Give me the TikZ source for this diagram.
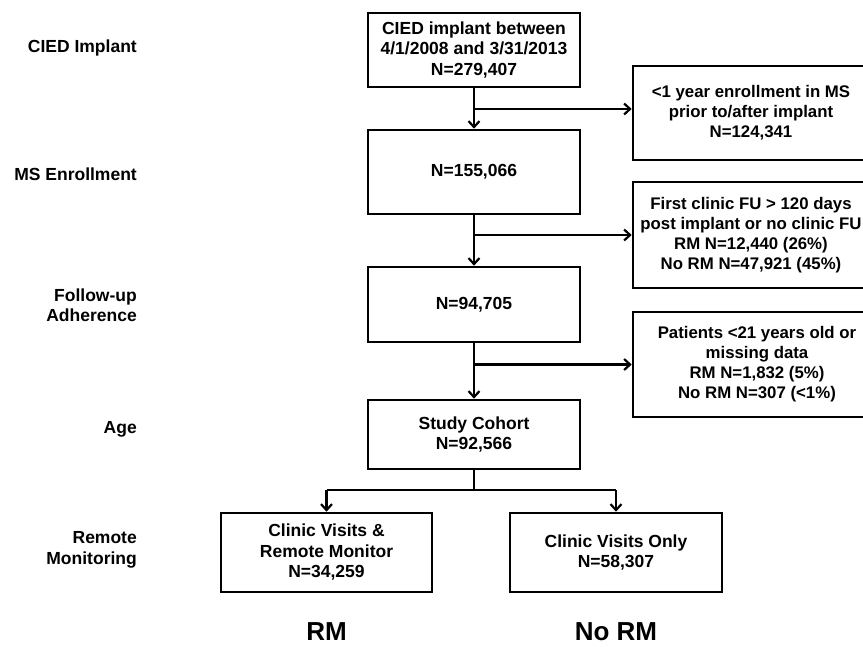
\documentclass[tikz,border=0pt]{standalone}
\usepackage{fontspec}
\setmainfont{Liberation Sans}
\usetikzlibrary{arrows.meta}
\begin{document}
\begin{tikzpicture}[x=1pt,y=-1pt,
  box/.style={draw=black,line width=2.6pt,align=center,inner sep=0pt,font=\fontsize{17.5}{20.5}\selectfont\bfseries},
  rbox/.style={box,font=\fontsize{16.8}{20}\selectfont\bfseries},
  lbl/.style={align=right,anchor=east,inner sep=0pt,font=\fontsize{17.5}{20.5}\selectfont\bfseries},
  big/.style={inner sep=0pt,font=\fontsize{26}{30}\selectfont\bfseries},
  ln/.style={line width=2.6pt},
  arr/.style={line width=2.6pt,-{Straight Barb[length=6pt,width=11pt,line width=2.2pt]}}]
\useasboundingbox (0,0) rectangle (863,647);
\clip (0,0) rectangle (863,647);
% main column
\node[box,minimum width=212pt,minimum height=74pt] (b1) at (474,50) {CIED implant between\\4/1/2008 and 3/31/2013\\N=279,407};
\node[box,minimum width=212pt,minimum height=84pt] (b2) at (474,172) {N=155,066};
\node[box,minimum width=212pt,minimum height=75pt] (b3) at (474,304.5) {N=94,705};
\node[box,minimum width=212pt,minimum height=69pt] (b4) at (474,434.5) {Study Cohort\\N=92,566};
\node[box,minimum width=211pt,minimum height=79pt] (rm) at (326.5,552.5) {Clinic Visits \&\\Remote Monitor\\N=34,259};
\node[box,minimum width=212pt,minimum height=79pt] (norm) at (616,552.5) {Clinic Visits Only\\N=58,307};
% exclusion boxes
\node[rbox,minimum width=236pt,minimum height=94pt] (r1) at (751,113) {<1 year enrollment in MS\\prior to/after implant\\N=124,341};
\node[rbox,minimum width=236pt,minimum height=106pt] (r2) at (751,235) {First clinic FU > 120 days\\post implant or no clinic FU\\RM N=12,440 (26\%)\\No RM N=47,921 (45\%)};
\node[rbox,minimum width=248pt,minimum height=105pt] (r3) at (757,364.5) {Patients <21 years old or\\missing data\\RM N=1,832 (5\%)\\No RM N=307 (<1\%)};
% left labels
\node[lbl] (l1) at (137,48) {CIED Implant};
\node[lbl] (l2) at (137,174) {MS Enrollment};
\node[lbl] (l3) at (137,305) {Follow-up\\Adherence};
\node[lbl] (l4) at (137,429) {Age};
\node[lbl] (l5) at (137,550) {Remote\\Monitoring};
% bottom labels
\node[big] (t1) at (326.5,632) {RM};
\node[big] (t2) at (616,632) {No RM};
% connectors
\draw[arr] (b1.south) -- (b2.north);
\draw[arr] ([yshift=4pt]b1.south |- r1.west) -- ([yshift=4pt]r1.west);
\draw[arr] (b2.south) -- (b3.north);
\draw[arr] (b2.south |- r2.west) -- (r2.west);
\draw[arr] (b3.south) -- (b4.north);
\draw[arr] (b3.south |- r3.west) -- (r3.west);
\coordinate (s) at (474,490);
\draw[ln] (b4.south) -- (s);
\draw[ln] (rm.north |- s) -- (norm.north |- s);
\draw[arr] (rm.north |- s) -- (rm.north);
\draw[arr] (norm.north |- s) -- (norm.north);
\end{tikzpicture}
\end{document}
